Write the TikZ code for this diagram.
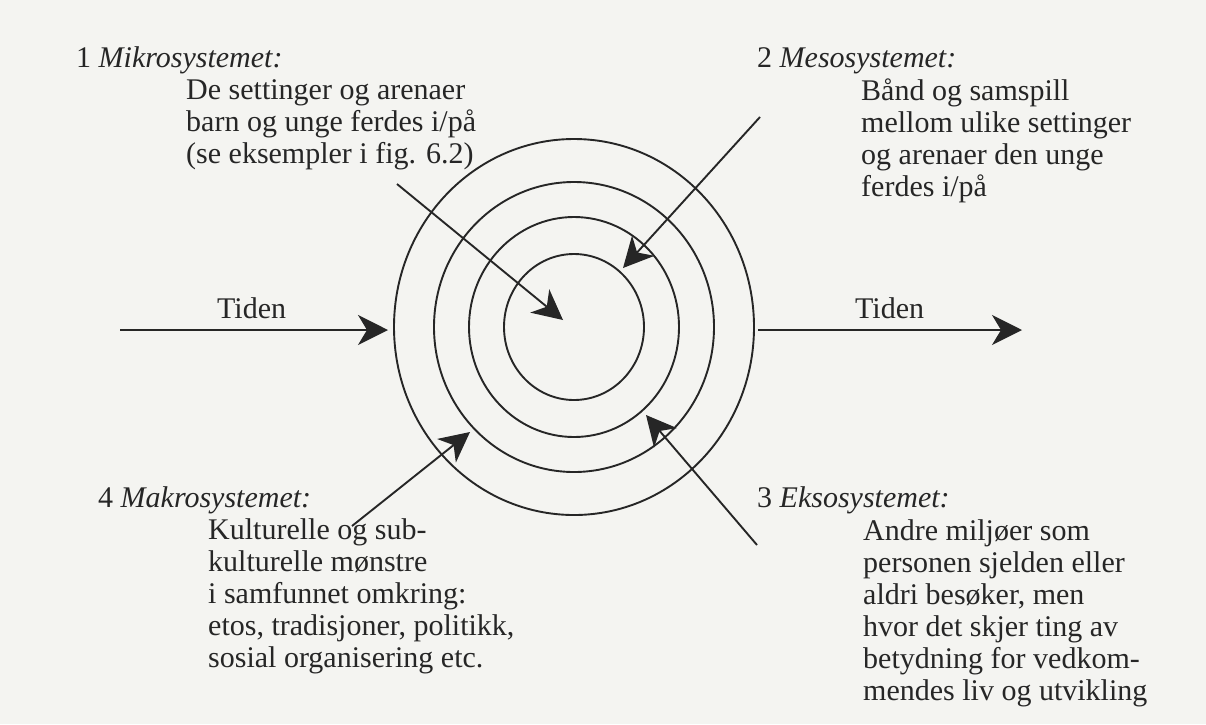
\documentclass[tikz,border=0pt]{standalone}
\usepackage{fontspec}
\setmainfont{Liberation Serif}
\usetikzlibrary{arrows.meta}
\definecolor{bg}{RGB}{244,244,241}
\definecolor{ink}{RGB}{38,38,38}
\begin{document}
\begin{tikzpicture}[x=1pt,y=-1pt,
  ring/.style={draw=ink,line width=1.9pt},
  arr/.style={draw=ink,line width=1.9pt,-{Stealth[length=30pt,width=30pt,inset=9pt]}},
  txt/.style={inner sep=0pt,anchor=base west,text=ink,font=\fontsize{30}{32}\selectfont}]
\fill[bg] (0,0) rectangle (1206,724);
\useasboundingbox (0,0) rectangle (1206,724);
% rings
\coordinate (c) at (574,327);
\draw[ring] (c) ellipse [x radius=180, y radius=188];
\draw[ring] (c) ellipse [x radius=140, y radius=145];
\draw[ring] (c) ellipse [x radius=105, y radius=110];
\draw[ring] (c) ellipse [x radius=70, y radius=73];
% time arrows
\coordinate (tl0) at (120,330);
\coordinate (tl1) at (388,330);
\coordinate (tr0) at (758,330);
\coordinate (tr1) at (1022,330);
\draw[arr] (tl0) -- (tl1);
\draw[arr] (tr0) -- (tr1);
\node[txt] (tidenL) at (217,318) {Tiden};
\node[txt] (tidenR) at (855,318) {Tiden};
% 1 Mikro
\node[txt] (h1) at (76,67) {1 \textit{Mikrosystemet:}};
\foreach \t [count=\i] in {De settinger og arenaer,barn og unge ferdes i/på,(se eksempler i fig. 6.2)}
  \node[txt] (a\i) at (186,{99+32*(\i-1)}) {\t};
% 2 Meso
\node[txt] (h2) at (757,67) {2 \textit{Mesosystemet:}};
\foreach \t [count=\i] in {Bånd og samspill,mellom ulike settinger,og arenaer den unge,ferdes i/på}
  \node[txt] (b\i) at (861,{100+32*(\i-1)}) {\t};
% 4 Makro
\node[txt] (h4) at (98,507) {4 \textit{Makrosystemet:}};
\foreach \t [count=\i] in {Kulturelle og sub-,kulturelle mønstre,i samfunnet omkring:,{etos, tradisjoner, politikk,},sosial organisering etc.}
  \node[txt] (d\i) at (208,{539+32*(\i-1)}) {\t};
% 3 Ekso
\node[txt] (h3) at (757,507) {3 \textit{Eksosystemet:}};
\foreach \t [count=\i] in {Andre miljøer som,personen sjelden eller,{aldri besøker, men},hvor det skjer ting av,betydning for vedkom-,mendes liv og utvikling}
  \node[txt] (e\i) at (863,{540+32*(\i-1)}) {\t};
% pointer arrows
\coordinate (m0) at (397,184); \coordinate (m1) at (563,320);
\coordinate (s0) at (760,117); \coordinate (s1) at (623,268);
\coordinate (k0) at (352,526); \coordinate (k1) at (470,432);
\coordinate (x0) at (757,545); \coordinate (x1) at (646,415);
\draw[arr] (m0) -- (m1);
\draw[arr] (s0) -- (s1);
\draw[arr] (k0) -- (k1);
\draw[arr] (x0) -- (x1);
\end{tikzpicture}
\end{document}
